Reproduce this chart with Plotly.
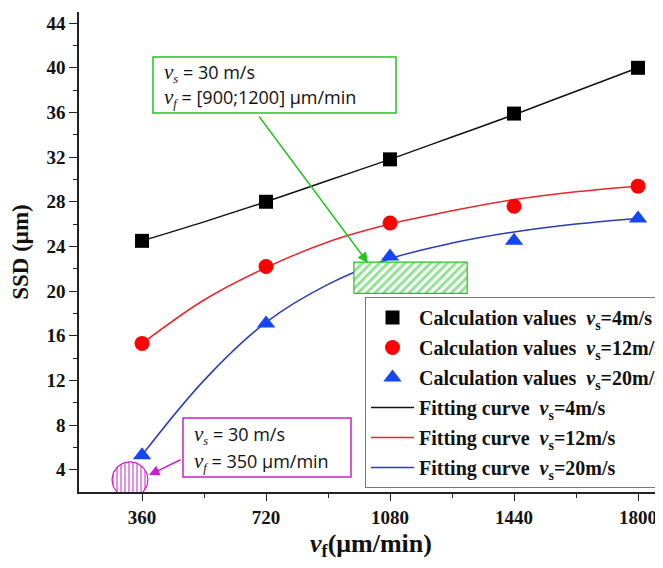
import numpy as np
import plotly.graph_objects as go

# ---------------- data ----------------
vf = [360, 720, 1080, 1440, 1800]
ssd_vs4 = [24.5, 28.0, 31.8, 35.9, 40.0]
ssd_vs12 = [15.3, 22.2, 26.1, 27.6, 29.4]
ssd_vs20 = [5.3, 17.1, 23.1, 24.5, 26.5]

fit_x = [360, 540, 720, 900, 1080, 1260, 1440, 1620, 1800]
fit_vs4 = [24.5, 26.2, 28.0, 29.9, 31.8, 33.8, 35.8, 37.9, 40.0]
fit_vs12 = [15.3, 19.2, 22.1, 24.4, 26.0, 27.2, 28.2, 28.9, 29.4]
fit_vs20 = [5.3, 12.0, 17.2, 20.6, 22.9, 24.3, 25.3, 26.0, 26.5]

x_ticks = [360, 720, 1080, 1440, 1800]
y_ticks = [4, 8, 12, 16, 20, 24, 28, 32, 36, 40, 44]

# highlighted regions (data coordinates)
rect_x = [975, 1304]
rect_y = [19.8, 22.6]
circ_center = (325, 3.1)
circ_r = (52, 1.6)

# ---------------- layout constants ----------------
OFF = 8                      # page body margin
W, H = 663 - OFF, 568 - OFF
ML, MR, MT, MB = 79 - OFF, 0, 12 - OFF, 76
PW, PH = W - ML - MR, H - MT - MB
XR = [177, 1872.5]
YR = [2, 45]

def px(x):   # page pixel -> paper
    return (x - OFF - ML) / PW

def py(y):
    return (H - MB - (y - OFF)) / PH

SERIF = "Liberation Serif, Times New Roman, serif"
SANS = "Open Sans, Noto Sans, sans-serif"
GREEN = "#22c322"
MAG = "#cc1fcc"

fig = go.Figure()

def lbl(prefix, val):
    return f"<b>{prefix}  <i>v</i><sub>s</sub>={val}m/s</b>"

# fitting curves (drawn first)
for ys, col, v, rank in [(fit_vs4, "#111111", 4, 4), (fit_vs12, "#e8262e", 12, 5), (fit_vs20, "#2a3cb8", 20, 6)]:
    fig.add_trace(go.Scatter(x=fit_x, y=ys, mode="lines", line=dict(color=col, width=1.5, shape="spline"),
                             name=lbl("Fitting curve", v), legendrank=rank, legendgroup=f"g{rank}"))

# hatched rectangle
fig.add_trace(go.Scatter(x=[rect_x[0], rect_x[1], rect_x[1], rect_x[0], rect_x[0]],
                         y=[rect_y[0], rect_y[0], rect_y[1], rect_y[1], rect_y[0]],
                         mode="lines", fill="toself", line=dict(color=GREEN, width=1.2),
                         fillcolor="white",
                         fillpattern=dict(shape="/", fgcolor=GREEN, bgcolor="white", size=6, solidity=0.5),
                         showlegend=False, hoverinfo="skip"))
# hatched circle
t = np.linspace(0, 2 * np.pi, 80)
fig.add_trace(go.Scatter(x=circ_center[0] + circ_r[0] * np.cos(t), y=circ_center[1] + circ_r[1] * np.sin(t),
                         mode="lines", fill="toself", line=dict(color=MAG, width=1.2),
                         fillpattern=dict(shape="|", fgcolor=MAG, bgcolor="white", size=4, solidity=0.5),
                         showlegend=False, hoverinfo="skip"))

# calculation values
for ys, col, sym, sz, v, rank in [(ssd_vs4, "#000000", "square", 14, 4, 1),
                                  (ssd_vs12, "#ff0000", "circle", 15, 12, 2),
                                  (ssd_vs20, "#1346f5", "triangle-up", 16, 20, 3)]:
    fig.add_trace(go.Scatter(x=vf, y=ys, mode="markers", marker=dict(color=col, symbol=sym, size=sz, line=dict(width=0)),
                             name=lbl("Calculation values", v), legendrank=rank, legendgroup=f"g{rank}"))

axis_font = dict(family=SERIF, size=19, color="#111111", weight="bold")
fig.update_xaxes(range=XR, tickmode="array", tickvals=x_ticks, ticks="outside", ticklen=7, tickwidth=1.2,
                 tickcolor="#222", showline=True, linecolor="#222", linewidth=1.5, showgrid=False, zeroline=False,
                 tickfont=axis_font,
                 minor=dict(tickvals=[540, 900, 1260, 1620], ticks="outside", ticklen=4, tickcolor="#222"),
                 title=dict(text="<b><i>v</i><sub>f</sub>(μm/min)</b>", font=dict(family=SERIF, size=26, color="#111"), standoff=7),
                 automargin=False)
fig.update_yaxes(range=YR, tickmode="array", tickvals=y_ticks, ticks="outside", ticklen=8, tickwidth=1.2,
                 tickcolor="#222", showline=True, linecolor="#222", linewidth=1.5, showgrid=False, zeroline=False,
                 tickfont=axis_font,
                 minor=dict(tickvals=[6, 10, 14, 18, 22, 26, 30, 34, 38, 42], ticks="outside", ticklen=4, tickcolor="#222"),
                 title=dict(text="<b>SSD (μm)</b>", font=dict(family=SERIF, size=23, color="#111"), standoff=13),
                 automargin=False)

shapes = [
    dict(type="rect", xref="paper", yref="paper", x0=px(153), x1=px(396), y0=py(113), y1=py(57),
         line=dict(color=GREEN, width=1.5), fillcolor="white", layer="above"),
    dict(type="rect", xref="paper", yref="paper", x0=px(183), x1=px(351), y0=py(477), y1=py(418),
         line=dict(color=MAG, width=1.5), fillcolor="white", layer="above"),
]

V = '<span style="font-family:Liberation Serif;font-style:italic;font-size:21px">v</span>'
def sub(s):
    return f'<sub><span style="font-family:Liberation Serif;font-style:italic">{s}</span></sub>'

annots = []
def txt(x, y, s):
    annots.append(dict(xref="paper", yref="paper", x=px(x), y=py(y), xanchor="left", yanchor="middle",
                       text=s, showarrow=False, font=dict(family=SANS, size=18, color="#111")))

txt(162, 73, f"{V}{sub('s')} = 30 m/s")
txt(162, 98, f"{V}{sub('f')} = [900;1200] μm/min")
txt(192, 435, f"{V}{sub('s')} = 30 m/s")
txt(192, 462, f"{V}{sub('f')} = 350 μm/min")

# arrows
annots.append(dict(xref="paper", yref="paper", x=px(368), y=py(263), ax=258 - 368, ay=115 - 263,
                   showarrow=True, arrowhead=2, arrowsize=1.4, arrowwidth=1.5, arrowcolor=GREEN, text=""))
annots.append(dict(xref="paper", yref="paper", x=px(149), y=py(475), ax=182 - 149, ay=459 - 475,
                   showarrow=True, arrowhead=2, arrowsize=1.4, arrowwidth=1.5, arrowcolor=MAG, text=""))

fig.update_layout(
    width=W, height=H, margin=dict(l=ML, r=MR, t=MT, b=MB, autoexpand=False),
    paper_bgcolor="white", plot_bgcolor="white",
    shapes=shapes, annotations=annots,
    legend=dict(x=px(365), y=py(297), xanchor="left", yanchor="top", bgcolor="white",
                bordercolor="#777", borderwidth=1, traceorder="grouped", tracegroupgap=1, itemwidth=43,
                font=dict(family=SERIF, size=20, color="#111")),
)

fig.write_html("out.html")
